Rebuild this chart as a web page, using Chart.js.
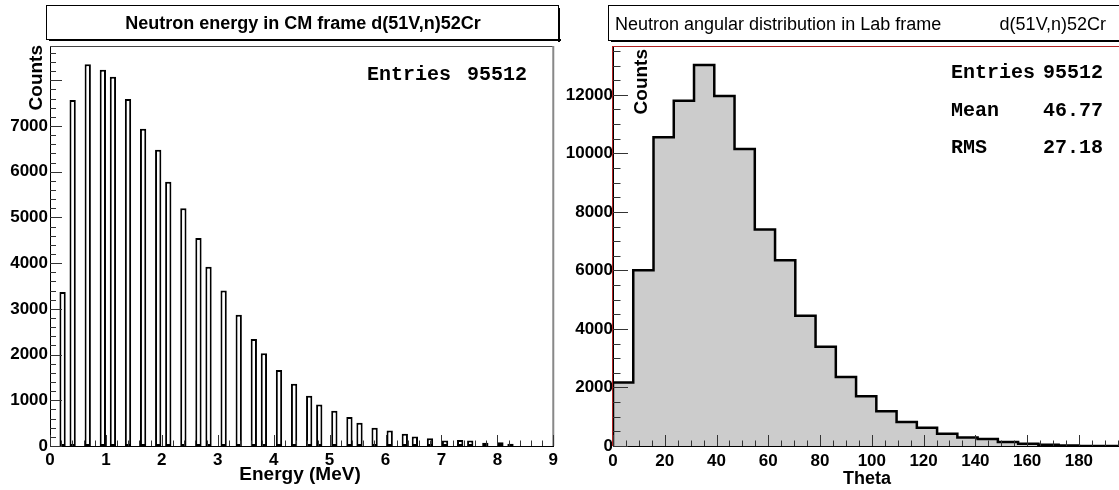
<!DOCTYPE html>
<html>
<head>
<meta charset="utf-8">
<script src="https://cdn.jsdelivr.net/npm/chart.js@4.4.0/dist/chart.umd.min.js"></script>
<style>
html, body { margin: 0; padding: 0; background: #fff; overflow: hidden; }
#energyChart { position: absolute; left: 0; top: 0; }
#thetaChart { position: absolute; left: 562px; top: 0; }
</style>
</head>
<body>
<canvas id="energyChart" width="562" height="490"></canvas>
<canvas id="thetaChart" width="557" height="490"></canvas>
<script>
// left histogram: 100 bins between 0 and 9 MeV, only the filled bins are listed
var energyNbins = 100;
var energyMax = 9;
var energyBins = [2, 4, 7, 10, 12, 15, 18, 21, 23, 26, 29, 31, 34, 37, 40, 42, 45, 48,
                  51, 53, 56, 59, 61, 64, 67, 70, 72, 75, 78, 81, 83, 86, 89, 91];
var energyCounts = [3370, 7570, 8350, 8230, 8080, 7590, 6940, 6480, 5780, 5200, 4550, 3920, 3400, 2870, 2340, 2030, 1660, 1360,
                    1100, 910, 770, 635, 510, 400, 340, 270, 210, 170, 120, 130, 120, 70, 80, 50];
var energyXTicks = [0, 1, 2, 3, 4, 5, 6, 7, 8, 9];
var energyYTicks = [0, 1000, 2000, 3000, 4000, 5000, 6000, 7000];
var energyYMax = 8750;

// right histogram: 23 bins between 0 and 180 degrees
var thetaMax = 180;
var thetaAxisMax = 195.5;
var thetaCounts = [2170, 6010, 10550, 11800, 13020, 11960, 10150, 7400, 6350, 4450, 3390, 2360,
                   1700, 1190, 820, 620, 420, 290, 240, 140, 80, 40, 20];
var thetaXTicks = [0, 20, 40, 60, 80, 100, 120, 140, 160, 180];
var thetaYTicks = [0, 2000, 4000, 6000, 8000, 10000, 12000];
var thetaYMax = 13670;

var leftStats = [['Entries', '95512']];
var rightStats = [['Entries', '95512'], ['Mean', '46.77'], ['RMS', '27.18']];

var SANS = '"Liberation Sans", Arial, Helvetica, sans-serif';
var MONO = '"Liberation Mono", "Courier New", monospace';
var tickFont = {family: SANS, size: 17, weight: 'bold'};

function setTicks(list) {
    return function (scale) {
        scale.ticks = list.map(function (v) { return {value: v}; });
    };
}

function drawBox(ctx, x, y, w, h) {
    ctx.fillStyle = '#fff';
    ctx.fillRect(x, y, w, h);
    ctx.strokeStyle = '#000';
    ctx.lineWidth = 1;
    ctx.strokeRect(x + 0.5, y + 0.5, w, h);
    // shadow
    ctx.fillStyle = '#000';
    ctx.fillRect(x + w, y + 3, 2, h);
    ctx.fillRect(x + 3, y + h, w, 2);
}

function innerTicks(chart, t) {
    var ctx = chart.ctx, a = chart.chartArea;
    var xs = chart.scales.x, ys = chart.scales.y;
    ctx.save();
    ctx.strokeStyle = '#333';
    ctx.lineWidth = 1;
    ctx.beginPath();
    var k, v, p, len;
    for (k = 0; k * t.xMinor <= xs.max + 1e-9; k++) {
        v = k * t.xMinor;
        p = Math.round(xs.getPixelForValue(v)) + 0.5;
        len = (k % t.xPer === 0) ? t.xLen : t.xLen / 2;
        ctx.moveTo(p, a.bottom);
        ctx.lineTo(p, a.bottom - len);
    }
    for (k = 0; k * t.yMinor <= ys.max + 1e-9; k++) {
        v = k * t.yMinor;
        p = Math.round(ys.getPixelForValue(v)) + 0.5;
        len = (k % t.yPer === 0) ? t.yLen : t.yLen / 2;
        ctx.moveTo(a.left, p);
        ctx.lineTo(a.left + len, p);
    }
    ctx.stroke();
    ctx.restore();
}

function yTitle(ctx, text, x, y, size) {
    ctx.save();
    ctx.translate(x, y);
    ctx.rotate(-Math.PI / 2);
    ctx.font = 'bold ' + size + 'px ' + SANS;
    ctx.fillStyle = '#000';
    ctx.textAlign = 'right';
    ctx.textBaseline = 'alphabetic';
    ctx.fillText(text, 0, 0);
    ctx.restore();
}

function statsText(ctx, rows, x1, x2, y0, dy) {
    ctx.save();
    ctx.font = 'bold 20px ' + MONO;
    ctx.fillStyle = '#000';
    ctx.textBaseline = 'alphabetic';
    for (var i = 0; i < rows.length; i++) {
        ctx.textAlign = 'left';
        ctx.fillText(rows[i][0], x1, y0 + i * dy);
        ctx.textAlign = 'right';
        ctx.fillText(rows[i][1], x2, y0 + i * dy);
    }
    ctx.restore();
}

var energyDecor = {
    id: 'energyDecor',
    afterDraw: function (chart) {
        var ctx = chart.ctx, a = chart.chartArea;
        ctx.save();
        // frame
        ctx.strokeStyle = '#444';
        ctx.lineWidth = 1;
        ctx.beginPath();
        ctx.moveTo(a.left, a.top + 0.5);
        ctx.lineTo(a.right, a.top + 0.5);
        ctx.stroke();
        ctx.fillStyle = '#888';
        ctx.fillRect(a.right - 1, a.top, 2, a.bottom - a.top);
        ctx.restore();
        innerTicks(chart, {xMinor: 0.2, xPer: 5, xLen: 11, yMinor: 200, yPer: 5, yLen: 12});

        ctx.save();
        drawBox(ctx, 46, 5, 512, 34);
        ctx.fillStyle = '#000';
        ctx.font = 'bold 18px ' + SANS;
        ctx.textAlign = 'center';
        ctx.textBaseline = 'alphabetic';
        ctx.fillText('Neutron energy in CM frame d(51V,n)52Cr', 303, 29);
        ctx.font = 'bold 19px ' + SANS;
        ctx.fillText('Energy (MeV)', 300, 480);
        ctx.restore();
        yTitle(ctx, 'Counts', 42, 45, 19);
        statsText(ctx, leftStats, 367, 527, 80, 0);
    }
};

var thetaDecor = {
    id: 'thetaDecor',
    afterDraw: function (chart) {
        var ctx = chart.ctx, a = chart.chartArea;
        innerTicks(chart, {xMinor: 5, xPer: 4, xLen: 11, yMinor: 500, yPer: 4, yLen: 15});
        ctx.save();
        ctx.fillStyle = '#b22222';
        ctx.fillRect(a.left - 1, a.top, chart.width, 1);
        ctx.fillRect(a.left - 1, a.top, 1, a.bottom - a.top);
        drawBox(ctx, 46, 5, 600, 35);
        ctx.fillStyle = '#000';
        ctx.font = '18px ' + SANS;
        ctx.textBaseline = 'alphabetic';
        ctx.textAlign = 'left';
        ctx.fillText('Neutron angular distribution in Lab frame', 53, 30);
        ctx.textAlign = 'right';
        ctx.fillText('d(51V,n)52Cr', 544, 30);
        ctx.font = 'bold 18px ' + SANS;
        ctx.textAlign = 'center';
        ctx.fillText('Theta', 305, 484);
        ctx.restore();
        yTitle(ctx, 'Counts', 85, 49, 19);
        statsText(ctx, rightStats, 389, 541, 78, 37.5);
    }
};

// build bin tables
var energyWidth = energyMax / energyNbins;
var energyData = [];
for (var i = 0; i < energyNbins; i++) {
    energyData.push({x: (i + 0.5) * energyWidth, y: 0});
}
energyBins.forEach(function (b, k) {
    energyData[b].y = energyCounts[k];
});

// step outline: each count is held from the bin's low edge to its high edge
var thetaWidth = thetaMax / thetaCounts.length;
var thetaData = [{x: 0, y: 0}];
thetaCounts.forEach(function (c, k) {
    thetaData.push({x: k * thetaWidth, y: c});
    thetaData.push({x: (k + 1) * thetaWidth, y: c});
});
thetaData.push({x: thetaMax, y: 0});
thetaData.push({x: thetaAxisMax, y: 0});

new Chart(document.getElementById('energyChart'), {
    type: 'bar',
    data: {
        datasets: [{
            data: energyData,
            backgroundColor: '#ffffff',
            borderColor: '#000000',
            borderWidth: 2,
            borderSkipped: false,
            barPercentage: 1.25,
            categoryPercentage: 1
        }]
    },
    options: {
        responsive: false,
        animation: false,
        devicePixelRatio: 1,
        layout: {autoPadding: false, padding: {top: 46, right: 1, left: 0, bottom: 0}},
        plugins: {legend: {display: false}, tooltip: {enabled: false}},
        scales: {
            x: {
                type: 'linear', min: 0, max: energyMax, offset: false,
                afterFit: function (s) { s.height = 44; },
                afterBuildTicks: setTicks(energyXTicks),
                grid: {display: false, drawTicks: false},
                border: {display: true, color: '#000', width: 1},
                ticks: {padding: 4, color: '#000', font: tickFont, maxRotation: 0, autoSkip: false}
            },
            y: {
                min: 0, max: energyYMax,
                afterFit: function (s) { s.width = 50; },
                afterBuildTicks: setTicks(energyYTicks),
                grid: {display: false, drawTicks: false},
                border: {display: true, color: '#000', width: 1},
                ticks: {padding: 2, color: '#000', font: tickFont, autoSkip: false,
                        callback: function (v) { return String(v); }}
            }
        }
    },
    plugins: [energyDecor]
});

new Chart(document.getElementById('thetaChart'), {
    type: 'line',
    data: {
        datasets: [{
            data: thetaData,
            fill: 'origin',
            backgroundColor: 'rgb(204,204,204)',
            borderColor: '#000000',
            borderWidth: 2.5,
            borderJoinStyle: 'miter',
            tension: 0,
            pointRadius: 0
        }]
    },
    options: {
        responsive: false,
        animation: false,
        devicePixelRatio: 1,
        layout: {autoPadding: false, padding: {top: 46, right: 0, left: 0, bottom: 0}},
        plugins: {legend: {display: false}, tooltip: {enabled: false}},
        scales: {
            x: {
                type: 'linear', min: 0, max: thetaAxisMax,
                afterFit: function (s) { s.height = 44; },
                afterBuildTicks: setTicks(thetaXTicks),
                grid: {display: false, drawTicks: false},
                border: {display: true, color: '#000', width: 1},
                ticks: {padding: 5, color: '#000', font: tickFont, maxRotation: 0, autoSkip: false}
            },
            y: {
                min: 0, max: thetaYMax,
                afterFit: function (s) { s.width = 51; },
                afterBuildTicks: setTicks(thetaYTicks),
                grid: {display: false, drawTicks: false},
                border: {display: true, color: '#000', width: 1},
                ticks: {padding: 0, color: '#000', font: tickFont, autoSkip: false,
                        callback: function (v) { return String(v); }}
            }
        }
    },
    plugins: [thetaDecor]
});
</script>
</body>
</html>
